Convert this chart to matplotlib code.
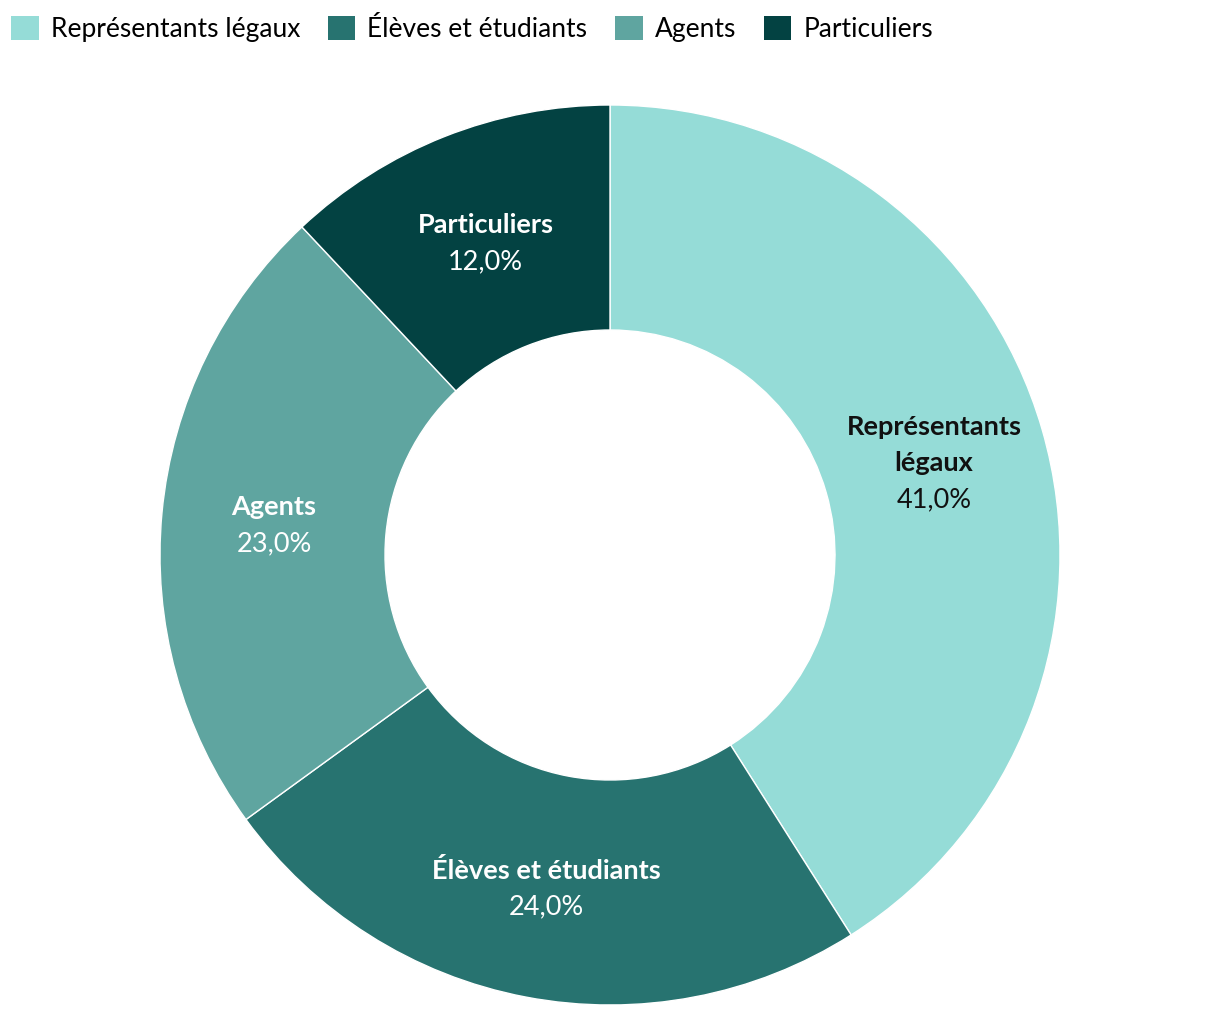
import numpy as np
import matplotlib.pyplot as plt
from matplotlib.patches import Patch

# data
categories = ['Représentants légaux', 'Élèves et étudiants', 'Agents', 'Particuliers']
wedge_labels = [['Représentants', 'légaux'], ['Élèves et étudiants'], ['Agents'], ['Particuliers']]
shares = [41.0, 24.0, 23.0, 12.0]
colors = ['#95dcd7', '#277370', '#5fa5a0', '#034242']
text_colors = ['#111111', 'white', 'white', 'white']

plt.rcParams['font.family'] = ['Lato', 'DejaVu Sans']

fig = plt.figure(figsize=(12.2, 10.16), dpi=100)
ax = fig.add_axes([160 / 1220, 11 / 1016, 900 / 1220, 900 / 1016])

wedges, _ = ax.pie(shares, colors=colors, startangle=90, counterclock=False,
                   radius=1.0, wedgeprops=dict(width=0.5, edgecolor='white', linewidth=1))
ax.set_xlim(-1, 1)
ax.set_ylim(-1, 1)
ax.set_aspect('equal')
ax.axis('off')

px = 1 / 450  # one pixel in data units
pitch = 36 * px

# labels in the middle of the ring
for w, lines, val, tc in zip(wedges, wedge_labels, shares, text_colors):
    ang = np.deg2rad((w.theta1 + w.theta2) / 2)
    x, y = 0.75 * np.cos(ang), 0.75 * np.sin(ang)
    rows = [(l, 'bold') for l in lines] + [(f'{val:.1f}%'.replace('.', ','), 'normal')]
    n = len(rows)
    for i, (txt, wt) in enumerate(rows):
        yc = y - (i - (n - 1) / 2) * pitch - 1 * px
        ax.text(x, yc - 9 * px, txt, ha='center', va='baseline', fontsize=19.5,
                fontweight=wt, color=tc)

# legend
handles = [Patch(facecolor=c, edgecolor='none') for c in colors]
fig.legend(handles, categories, loc='upper left', bbox_to_anchor=(-0.004, 1.0),
           ncol=4, frameon=False, fontsize=19, handlelength=1.05, handleheight=1.05,
           handletextpad=0.45, columnspacing=1.05, borderaxespad=0.2)

fig.savefig('out.png', dpi=100, facecolor='white')
